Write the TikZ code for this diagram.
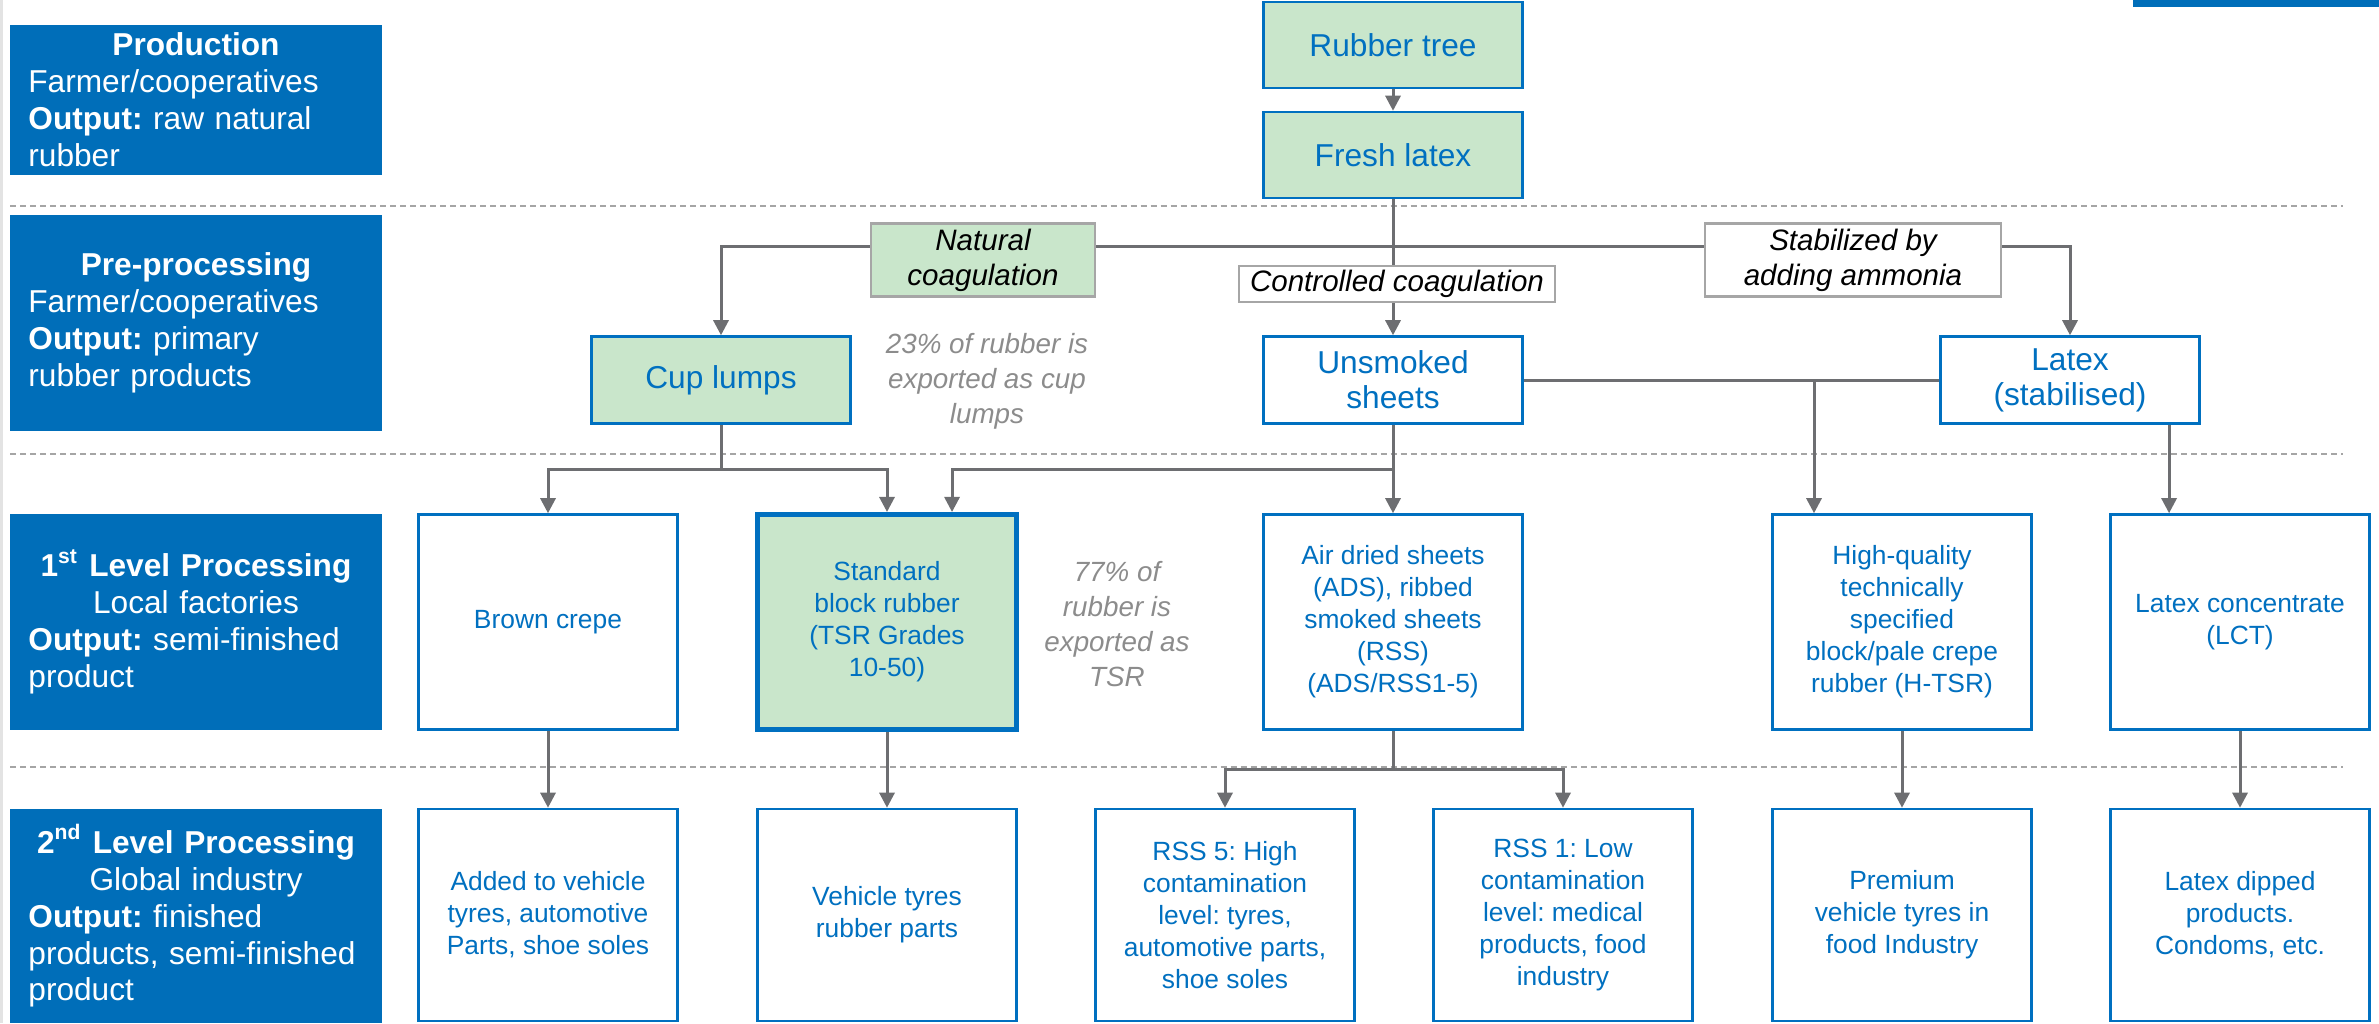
\documentclass[tikz,border=0pt]{standalone}
\usepackage{fontspec}
\setmainfont{Liberation Sans}
\usepackage{xcolor}
\usetikzlibrary{arrows.meta, positioning, calc}
\definecolor{lvlblue}{HTML}{006EB9}
\definecolor{boxblue}{HTML}{0070C0}
\definecolor{leafgreen}{HTML}{C9E6CB}
\definecolor{linegray}{HTML}{6D6E71}
\definecolor{dashgray}{HTML}{A5A5A5}
\definecolor{notegray}{HTML}{8C8C8C}
\definecolor{tagborder}{HTML}{A6A6A6}
\definecolor{stripgray}{HTML}{E3E3E3}
\frenchspacing
\tikzset{
  lvl/.style={fill=lvlblue, text=white, text width=3.35cm, inner xsep=0.185cm,
              inner ysep=0pt, align=left, font=\fontsize{9pt}{10.5pt}\selectfont},
  bigbox/.style={draw=boxblue, line width=0.7pt, fill=white, text=boxblue,
              minimum width=2.59cm, minimum height=0.86cm, align=center,
              font=\fontsize{9pt}{10pt}\selectfont},
  cell/.style={draw=boxblue, line width=0.7pt, fill=white, text=boxblue,
              minimum width=2.59cm, minimum height=2.15cm, align=center,
              inner sep=2pt, font=\fontsize{7.5pt}{9.1pt}\selectfont},
  leaf/.style={fill=leafgreen},
  tag/.style={draw=tagborder, line width=0.6pt, fill=white, align=center,
              inner sep=1pt, font=\fontsize{8.4pt}{10pt}\selectfont\itshape},
  note/.style={text=notegray, align=center, font=\fontsize{7.9pt}{10pt}\selectfont\itshape},
  flow/.style={-{Triangle[length=4.3pt, width=4.3pt]}, line width=0.85pt, draw=linegray},
  link/.style={line width=0.85pt, draw=linegray},
  sep/.style={draw=dashgray, line width=0.55pt, dash pattern=on 0.06cm off 0.04cm},
}

\begin{document}
\begin{tikzpicture}[x=0.01cm, y=-0.01cm]
  \useasboundingbox (0,0) rectangle (2379,1023);
  \fill[stripgray] (0,0) rectangle (3,1023);
  \fill[lvlblue] (2133,0) rectangle (2379,7);

  % stage separators
  \foreach \y in {206,454,767}{
    \draw[sep] (10,\y) -- (2343,\y);
  }

  % stages
  \node[lvl, minimum height=1.5cm] (prod) at (196,100)
    {{\centering\textbf{Production}\par}Farmer/cooperatives\\\textbf{Output:} raw natural\\rubber};
  \node[lvl, minimum height=2.16cm] (pre) at (196,323)
    {{\centering\textbf{Pre-processing}\par}Farmer/cooperatives\\\textbf{Output:} primary\\rubber products};
  \node[lvl, minimum height=2.15cm] (first) at (196,622)
    {{\centering\textbf{1\textsuperscript{st} Level Processing}\\Local factories\par}\textbf{Output:} semi-finished\\product};
  \node[lvl, minimum height=2.14cm] (second) at (196,916)
    {{\centering\textbf{2\textsuperscript{nd} Level Processing}\\Global industry\par}\textbf{Output:} finished\\products, semi-finished\\product};

  % raw and primary products
  \node[bigbox, leaf] (rubber) at (1393,45) {Rubber tree};
  \node[bigbox, leaf] (fresh) at (1393,155) {Fresh latex};
  \node[bigbox, leaf, minimum height=0.87cm] (cup) at (721,380) {Cup lumps};
  \node[bigbox, minimum height=0.87cm] (unsmoked) at (1393,380) {Unsmoked\\sheets};
  \node[bigbox, minimum height=0.87cm] (latexst) at (2070,380) {Latex\\(stabilised)};

  % 1st level
  \node[cell] (brown) at (548,622) {Brown crepe};
  \node[cell, leaf, line width=1.4pt] (std) at (887,622) {Standard\\block rubber\\(TSR Grades\\10-50)};
  \node[cell] (airdried) at (1393,622) {Air dried sheets\\(ADS), ribbed\\smoked sheets\\(RSS)\\(ADS/RSS1-5)};
  \node[cell] (htsr) at (1902,622) {High-quality\\technically\\specified\\block/pale crepe\\rubber (H-TSR)};
  \node[cell] (lct) at (2240,622) {Latex concentrate\\(LCT)};

  % 2nd level
  \node[cell, minimum height=2.12cm] (added) at (548,915) {Added to vehicle\\tyres, automotive\\Parts, shoe soles};
  \node[cell, minimum height=2.12cm] (vehicle) at (887,915) {Vehicle tyres\\rubber parts};
  \node[cell, minimum height=2.12cm] (rss5) at (1225,915) {RSS 5: High\\contamination\\level: tyres,\\automotive parts,\\shoe soles};
  \node[cell, minimum height=2.12cm] (rss1) at (1563,915) {RSS 1: Low\\contamination\\level: medical\\products, food\\industry};
  \node[cell, minimum height=2.12cm] (premium) at (1902,915) {Premium\\vehicle tyres in\\food Industry};
  \node[cell, minimum height=2.12cm] (dipped) at (2240,915) {Latex dipped\\products.\\Condoms, etc.};

  % shares
  \node[note] (cupnote) at (987,381) {23\% of rubber is\\exported as cup\\lumps};
  \node[note] (tsrnote) at (1117,624) {77\% of\\rubber is\\exported as\\TSR};

  % connectors
  \coordinate (split) at (1393,246);
  \coordinate (cupsplit) at (721,469);
  \coordinate (shsplit) at (1393,469);
  \coordinate (hq) at (1814,380);
  \coordinate (adsplit) at (1393,769);
  \draw[flow] (rubber) -- (fresh);
  \draw[flow] (fresh) -- (unsmoked);
  \draw[flow] (split) -| (cup.north);
  \draw[flow] (split) -| (latexst.north);
  \draw[link] (cup.south) -- (cupsplit);
  \draw[flow] (cupsplit) -| (brown.north);
  \draw[flow] (cupsplit) -| (std.north);
  \draw[flow] (unsmoked) -- (airdried);
  \draw[flow] (shsplit) -| ([xshift=0.65cm]std.north);
  \draw[link] (unsmoked.east) -- (latexst.west);
  \draw[flow] (hq) -- (hq |- htsr.north);
  \draw[flow] ([xshift=0.99cm]latexst.south) -- ([xshift=0.99cm]latexst.south |- lct.north);
  \draw[flow] (brown) -- (added);
  \draw[flow] (std) -- (vehicle);
  \draw[link] (airdried.south) -- (adsplit);
  \draw[flow] (adsplit) -| (rss5.north);
  \draw[flow] (adsplit) -| (rss1.north);
  \draw[flow] (htsr) -- (premium);
  \draw[flow] (lct) -- (dipped);

  % process tags
  \node[tag, leaf, minimum width=2.24cm, minimum height=0.73cm] (natural) at (983,260) {Natural\\coagulation};
  \node[tag, minimum width=3.16cm, minimum height=0.36cm] (controlled) at (1397,284) {Controlled coagulation};
  \node[tag, minimum width=2.96cm, minimum height=0.73cm] (ammonia) at (1853,260) {Stabilized by\\adding ammonia};
\end{tikzpicture}
\end{document}
